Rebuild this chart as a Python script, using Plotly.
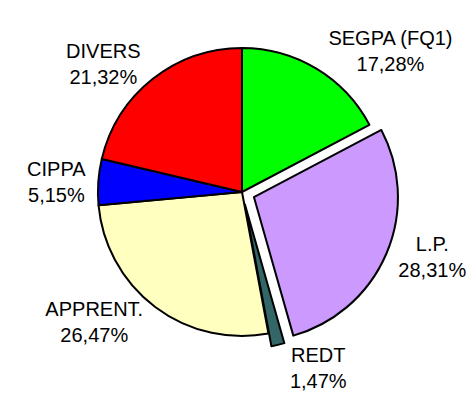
import plotly.graph_objects as go

labels = ["SEGPA (FQ1)", "L.P.", "REDT", "APPRENT.", "CIPPA", "DIVERS"]
values = [17.28, 28.31, 1.47, 26.47, 5.15, 21.32]
colors = ["#00FF00", "#CC99FF", "#336666", "#FFFFC0", "#0000FF", "#FF0000"]
pulls = [0, 0.09, 0.09, 0, 0, 0]

pct_text = [f"{v:.2f}%".replace(".", ",") for v in values]

fig = go.Figure(go.Pie(
    labels=labels,
    values=values,
    customdata=pct_text,
    texttemplate="%{label}<br>%{customdata}",
    textposition="outside",
    sort=False,
    direction="clockwise",
    rotation=0,
    pull=pulls,
    automargin=False,
    domain=dict(x=[0.1624, 0.8249], y=[0.1601, 0.9335]),
    marker=dict(colors=colors, line=dict(color="black", width=2)),
    textfont=dict(family="Liberation Sans, Arial, sans-serif", size=20, color="black"),
    showlegend=False,
    hoverinfo="skip",
))
W, H = 474, 406
fig.update_layout(
    width=W, height=H,
    margin=dict(l=0, r=0, t=0, b=0, autoexpand=False),
    paper_bgcolor="white",
    plot_bgcolor="white",
)
fig.write_html("out.html")
